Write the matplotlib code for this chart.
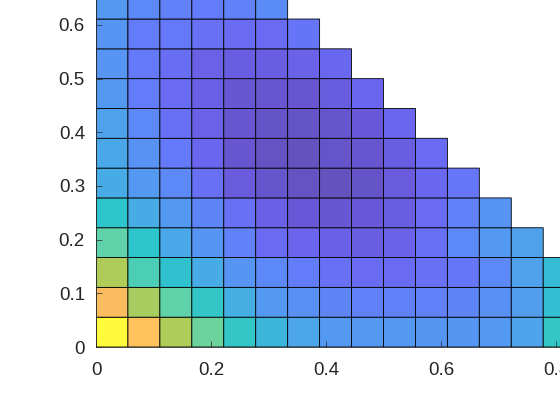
import numpy as np
import matplotlib
matplotlib.use("Agg")
import matplotlib.pyplot as plt
from matplotlib.colors import LinearSegmentedColormap

# cell size of the grid (x and y)
step = 1 / 18

# cell values, one list per row from bottom (y=0) upward; row r has 17-r cells
rows = [
    [1.00, 0.88, 0.74, 0.65, 0.56, 0.50, 0.45, 0.40, 0.40, 0.40, 0.39, 0.39, 0.40, 0.44, 0.56, 0.60, 0.64],
    [0.86, 0.73, 0.63, 0.56, 0.48, 0.40, 0.36, 0.32, 0.30, 0.30, 0.30, 0.32, 0.36, 0.42, 0.53, 0.58],
    [0.74, 0.60, 0.54, 0.47, 0.38, 0.33, 0.28, 0.22, 0.20, 0.20, 0.22, 0.25, 0.33, 0.43, 0.52],
    [0.63, 0.55, 0.46, 0.38, 0.30, 0.20, 0.16, 0.13, 0.12, 0.15, 0.22, 0.33, 0.40, 0.43],
    [0.55, 0.47, 0.40, 0.32, 0.22, 0.13, 0.08, 0.07, 0.08, 0.12, 0.20, 0.30, 0.38],
    [0.47, 0.40, 0.33, 0.22, 0.10, 0.05, 0.02, 0.00, 0.03, 0.10, 0.18, 0.25],
    [0.46, 0.37, 0.27, 0.17, 0.06, 0.02, 0.00, 0.04, 0.06, 0.12, 0.20],
    [0.43, 0.33, 0.22, 0.14, 0.06, 0.03, 0.03, 0.05, 0.08, 0.17],
    [0.40, 0.28, 0.20, 0.13, 0.07, 0.06, 0.06, 0.11, 0.17],
    [0.38, 0.27, 0.21, 0.14, 0.12, 0.12, 0.15, 0.18],
    [0.38, 0.28, 0.26, 0.22, 0.20, 0.20, 0.24],
    [0.40, 0.33, 0.30, 0.28, 0.30, 0.34],
]

xticks = [0, 0.2, 0.4, 0.6, 0.8]
yticks = [0, 0.1, 0.2, 0.3, 0.4, 0.5, 0.6]

# colours as they appear in the picture (lightened parula look)
cmap = LinearSegmentedColormap.from_list("parula_light", [
    (0.00, (100/255, 82/255, 190/255)),
    (0.08, (104/255, 88/255, 215/255)),
    (0.17, (107/255, 102/255, 240/255)),
    (0.27, (100/255, 122/255, 250/255)),
    (0.37, (88/255, 146/255, 245/255)),
    (0.46, (75/255, 168/255, 232/255)),
    (0.55, (45/255, 196/255, 204/255)),
    (0.64, (100/255, 212/255, 165/255)),
    (0.74, (175/255, 204/255, 88/255)),
    (0.87, (255/255, 188/255, 95/255)),
    (1.00, (255/255, 250/255, 60/255)),
])

ncols = len(rows[0])
Z = np.full((len(rows), ncols), np.nan)
for r, vals in enumerate(rows):
    Z[r, :len(vals)] = vals
Z = np.ma.masked_invalid(Z)

xe = np.arange(ncols + 1) * step
ye = np.arange(len(rows) + 1) * step

plt.rcParams['font.family'] = ['Liberation Sans', 'DejaVu Sans']
fig = plt.figure(figsize=(5.6, 4.2), dpi=100)
ax = fig.add_axes([96/560, 73/420, 464/560, 347/420])
# pcolor leaves masked cells out, so the empty corner has no edges
ax.pcolor(xe, ye, Z, cmap=cmap, vmin=0, vmax=1,
          edgecolors='black', linewidth=0.6)

ax.set_xlim(0, 464/575)
ax.set_ylim(0, 347/536.7)
ax.set_xticks(xticks)
ax.set_yticks(yticks)
ax.set_xticklabels(['0', '0.2', '0.4', '0.6', '0.8'])
ax.set_yticklabels(['0', '0.1', '0.2', '0.3', '0.4', '0.5', '0.6'])
ax.tick_params(direction='in', length=4, width=0.5, colors='0.15',
               labelsize=13.5, pad=8)
ax.tick_params(axis='x', pad=11)
for side in ['top', 'right']:
    ax.spines[side].set_visible(False)
for side in ['left', 'bottom']:
    ax.spines[side].set_color('0.15')
    ax.spines[side].set_linewidth(0.6)

fig.savefig("out.png", dpi=100)
